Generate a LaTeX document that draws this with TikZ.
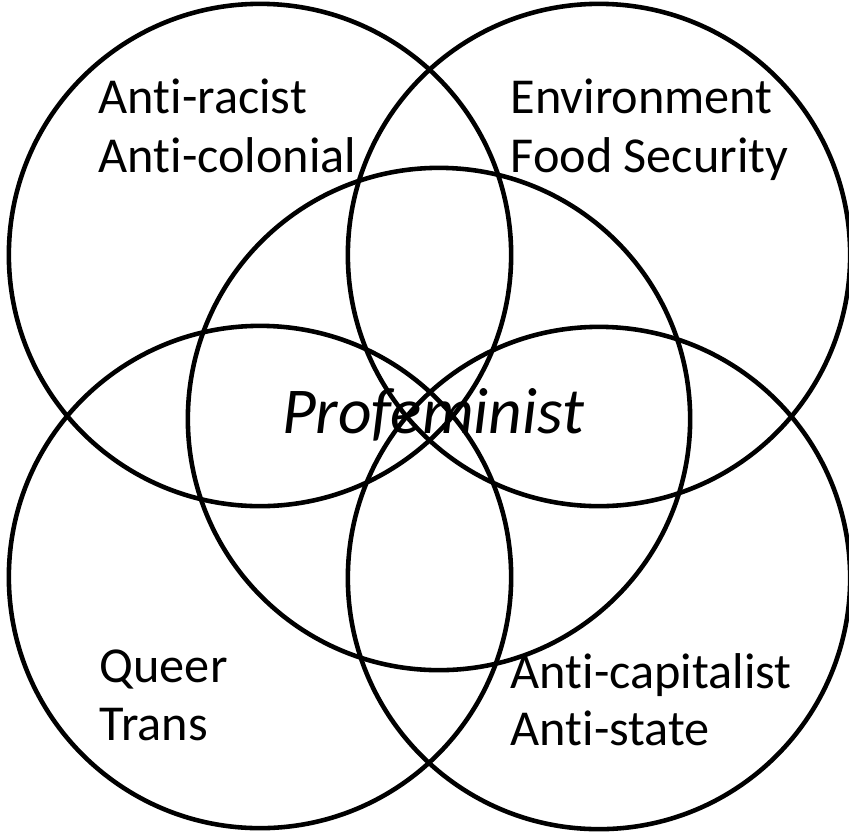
\documentclass[tikz,border=0pt]{standalone}
\usepackage{fontspec}
\setmainfont{Carlito}[Ligatures=NoCommon]
\usepackage{tikz}
\usetikzlibrary{positioning}

\begin{document}
\begin{tikzpicture}[x=0.01cm,y=-0.01cm,
ring/.style={draw, circle, line width=1.3pt, minimum size=5.02cm, inner sep=0pt},
lbl/.style={anchor=base west, inner sep=0pt, font=\fontsize{14.3}{17}\selectfont}]
\useasboundingbox (0,0) rectangle (849,833);
% circles
\node[ring] (tl) at (260,255) {};
\node[ring] (tr) at (599,255) {};
\node[ring] (bl) at (260,577) {};
\node[ring] (br) at (599,578) {};
\node[ring] (mid) at (439,419) {};
% labels
\node[lbl] (racist) at (98,113) {Anti-racist};
\node[lbl] (colonial) at (98,172) {Anti-colonial};
\node[lbl] (env) at (510,113) {Environment};
\node[lbl] (food) at (510,172) {Food Security};
\node[lbl] (queer) at (99,682) {Queer};
\node[lbl] (trans) at (99,740) {Trans};
\node[lbl] (capital) at (510,688) {Anti-capitalist};
\node[lbl] (state) at (510,745) {Anti-state};
\node[anchor=base, inner sep=0pt, font=\fontsize{18.6}{22}\selectfont\itshape] (pro) at (433,433) {Profeminist};
\end{tikzpicture}
\end{document}
